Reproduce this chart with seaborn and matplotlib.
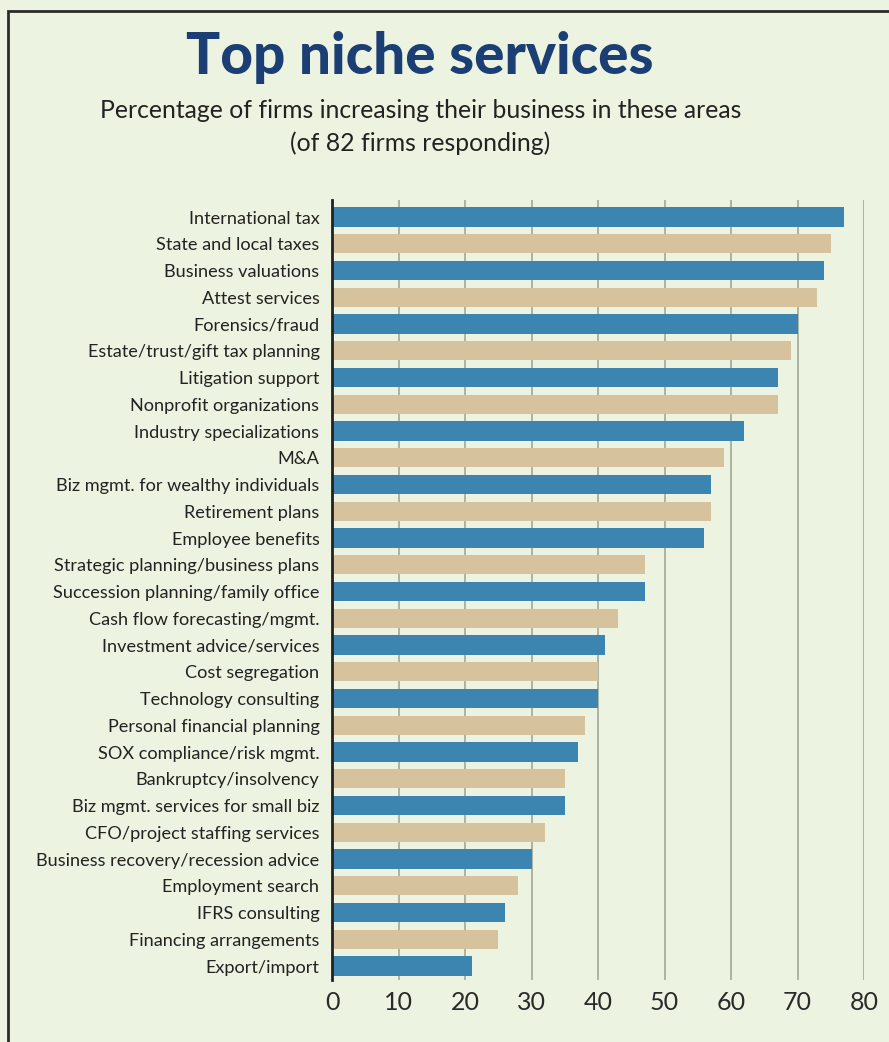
import matplotlib
matplotlib.use("Agg")
import matplotlib.pyplot as plt
import seaborn as sns
import pandas as pd
from matplotlib.patches import Rectangle

categories = [
    "International tax", "State and local taxes", "Business valuations", "Attest services",
    "Forensics/fraud", "Estate/trust/gift tax planning", "Litigation support",
    "Nonprofit organizations", "Industry specializations", "M&A",
    "Biz mgmt. for wealthy individuals", "Retirement plans", "Employee benefits",
    "Strategic planning/business plans", "Succession planning/family office",
    "Cash flow forecasting/mgmt.", "Investment advice/services", "Cost segregation",
    "Technology consulting", "Personal financial planning", "SOX compliance/risk mgmt.",
    "Bankruptcy/insolvency", "Biz mgmt. services for small biz",
    "CFO/project staffing services", "Business recovery/recession advice",
    "Employment search", "IFRS consulting", "Financing arrangements", "Export/import",
]
values = [77, 75, 74, 73, 70, 69, 67, 67, 62, 59, 57, 57, 56, 47, 47, 43, 41, 40, 40,
          38, 37, 35, 35, 32, 30, 28, 26, 25, 21]
x_ticks = [0, 10, 20, 30, 40, 50, 60, 70, 80]

BLUE = "#3C85B0"
TAN = "#D7C29E"
BG = "#ECF3E0"

df = pd.DataFrame({"cat": categories, "val": values})
df["grp"] = ["a" if i % 2 == 0 else "b" for i in range(len(df))]

sns.set_theme(style="white")
plt.rcParams["font.family"] = ["Lato", "DejaVu Sans"]

fig = plt.figure(figsize=(8.89, 10.42), dpi=100, facecolor=BG)
ax = fig.add_axes([332 / 889, 1 - 980 / 1042, (864 - 332) / 889, (980 - 200) / 1042])
ax.set_facecolor(BG)

sns.barplot(data=df, x="val", y="cat", hue="grp", palette={"a": BLUE, "b": TAN},
            dodge=False, width=0.72, legend=False, ax=ax, orient="h", zorder=3,
            saturation=1, edgecolor=None, linewidth=0)

ax.set_xlim(0, 80)
ax.set_ylim(len(categories) - 1 + 0.52, -0.64)
ax.set_xticks(x_ticks)
ax.set_xticklabels([str(t) for t in x_ticks], fontsize=18, color="#2a2a2a")
ax.tick_params(axis="x", length=0, pad=8)
ax.tick_params(axis="y", length=0, pad=9, labelsize=13.1, labelcolor="#222222")
ax.set_xlabel("")
ax.set_ylabel("")
ax.xaxis.grid(True, color="#A8AE9E", linewidth=1.3, zorder=0)
ax.yaxis.grid(False)
for s in ["top", "right", "bottom"]:
    ax.spines[s].set_visible(False)
ax.spines["left"].set_color("#222222")
ax.spines["left"].set_linewidth(2)
ax.spines["left"].set_zorder(5)

fig.text(0.472, 1 - 57 / 1042, "Top niche services", ha="center", va="center",
         fontsize=40.8, fontweight="black", color="#1B3E75")
fig.text(0.473, 1 - 110 / 1042, "Percentage of firms increasing their business in these areas",
         ha="center", va="center", fontsize=17.8, color="#222222")
fig.text(0.473, 1 - 143 / 1042, "(of 82 firms responding)",
         ha="center", va="center", fontsize=17.8, color="#222222")

fig.patches.append(Rectangle((8 / 889, -0.05), 1.2, 1 - 11 / 1042 + 0.05,
                             transform=fig.transFigure, fill=False,
                             edgecolor="#2b2b2b", linewidth=2, zorder=10))

fig.savefig("out.png", dpi=100, facecolor=BG)
